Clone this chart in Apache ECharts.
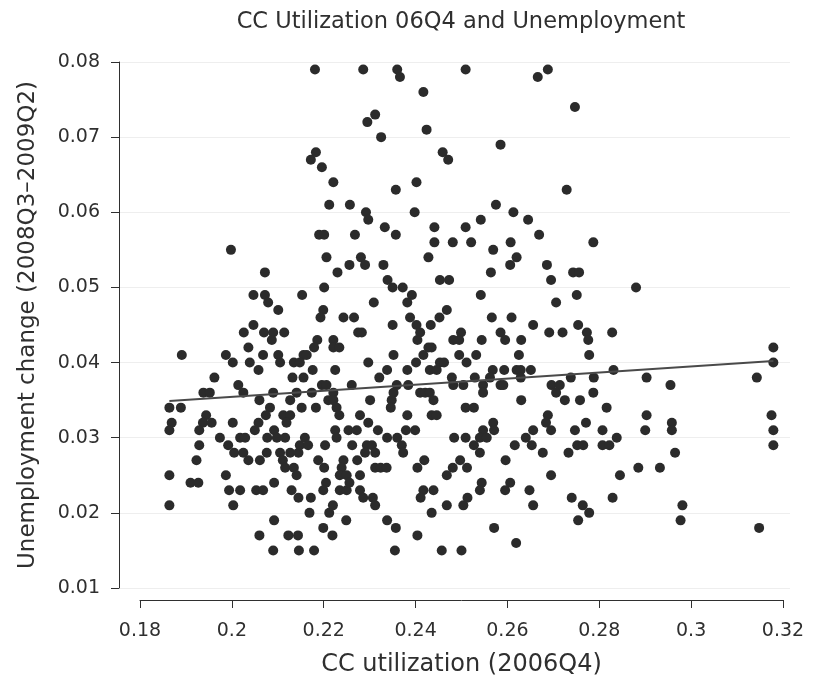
<!DOCTYPE html>
<html>
<head>
<meta charset="utf-8">
<script src="https://cdn.jsdelivr.net/npm/echarts/dist/echarts.min.js"></script>
<style>
  html, body { margin: 0; padding: 0; background: #fff; }
  #chart { width: 823px; height: 685px; }
</style>
</head>
<body>
<div id="chart"></div>
<script>
// CC utilization (2006Q4) vs unemployment change (2008Q3-2009Q2), one point per county
var points = [
  [0.2181,0.079],[0.2286,0.079],[0.2360,0.079],[0.2366,0.078],[0.2509,0.079],[0.2417,0.076],
  [0.2312,0.073],[0.2295,0.072],[0.2424,0.071],[0.2325,0.070],[0.2183,0.068],[0.2172,0.067],
  [0.2196,0.066],[0.2459,0.068],[0.2471,0.067],[0.2221,0.064],[0.2402,0.064],[0.2357,0.063],
  [0.2212,0.061],[0.2257,0.061],[0.2292,0.060],[0.2297,0.059],[0.2398,0.060],[0.2333,0.058],
  [0.2441,0.058],[0.2509,0.058],
  [0.2688,0.079],[0.2666,0.078],[0.2747,0.074],[0.2585,0.069],[0.2729,0.063],[0.2575,0.061],
  [0.2613,0.060],[0.2645,0.059],[0.2542,0.059],
  [0.1998,0.055],[0.2072,0.052],[0.2047,0.049],[0.2072,0.049],[0.2079,0.048],[0.2101,0.047],
  [0.2153,0.049],[0.2047,0.045],[0.2026,0.044],[0.2070,0.044],[0.2090,0.044],[0.2114,0.044],
  [0.2087,0.043],[0.2036,0.042],[0.1891,0.041],[0.1987,0.041],[0.2002,0.040],[0.2068,0.041],
  [0.2101,0.041],[0.2105,0.040],[0.2039,0.040],[0.2058,0.039],[0.2135,0.040],[0.1962,0.038],
  [0.2132,0.038],[0.2014,0.037],[0.1938,0.036],[0.1952,0.036],[0.2025,0.036],[0.2090,0.036],
  [0.2141,0.036],
  [0.2190,0.057],[0.2201,0.057],[0.2268,0.057],[0.2357,0.057],[0.2441,0.056],[0.2481,0.056],
  [0.2521,0.056],[0.2206,0.054],[0.2281,0.054],[0.2290,0.053],[0.2256,0.053],[0.2230,0.052],
  [0.2330,0.053],[0.2428,0.054],[0.2339,0.051],[0.2350,0.050],[0.2372,0.050],[0.2453,0.051],
  [0.2473,0.051],[0.2201,0.050],[0.2392,0.049],[0.2382,0.048],[0.2309,0.048],[0.2199,0.047],
  [0.2193,0.046],[0.2243,0.046],[0.2266,0.046],[0.2388,0.046],[0.2468,0.047],[0.2452,0.046],
  [0.2350,0.045],[0.2402,0.045],[0.2433,0.045],[0.2410,0.044],[0.2275,0.044],[0.2283,0.044],
  [0.2499,0.044],[0.2404,0.043],[0.2482,0.043],[0.2495,0.043],[0.2186,0.043],[0.2221,0.043],
  [0.2221,0.042],[0.2234,0.042],[0.2179,0.042],[0.2428,0.042],[0.2435,0.042],[0.2417,0.041],
  [0.2352,0.041],[0.2495,0.041],[0.2156,0.041],[0.2163,0.041],[0.2148,0.040],[0.2401,0.040],
  [0.2297,0.040],[0.2453,0.040],[0.2462,0.040],[0.2511,0.040],[0.2176,0.039],[0.2225,0.039],
  [0.2338,0.039],[0.2382,0.039],[0.2431,0.039],[0.2446,0.039],[0.2156,0.038],[0.2321,0.038],
  [0.2479,0.038],[0.2196,0.037],[0.2206,0.037],[0.2261,0.037],[0.2359,0.037],[0.2384,0.037],
  [0.2482,0.037],[0.2504,0.037],[0.2174,0.036],[0.2221,0.036],[0.2410,0.036],[0.2421,0.036],
  [0.2352,0.036],
  [0.2669,0.057],[0.2607,0.056],[0.2787,0.056],[0.2569,0.055],[0.2620,0.054],[0.2606,0.053],
  [0.2686,0.053],[0.2564,0.052],[0.2743,0.052],[0.2756,0.052],[0.2695,0.051],[0.2880,0.050],
  [0.2542,0.049],[0.2751,0.049],[0.2706,0.048],[0.2566,0.046],[0.2609,0.046],[0.2656,0.045],
  [0.2754,0.045],[0.2585,0.044],[0.2691,0.044],[0.2720,0.044],[0.2773,0.044],[0.2828,0.044],
  [0.2544,0.043],[0.2595,0.043],[0.2630,0.043],[0.2776,0.043],[0.2532,0.041],[0.2625,0.041],
  [0.2778,0.041],[0.2529,0.038],[0.2568,0.039],[0.2593,0.039],[0.2620,0.039],[0.2629,0.039],
  [0.2651,0.039],[0.2831,0.039],[0.2562,0.038],[0.2629,0.038],[0.2738,0.038],[0.2788,0.038],
  [0.2547,0.037],[0.2585,0.037],[0.2591,0.037],[0.2696,0.037],[0.2714,0.037],[0.2706,0.036],
  [0.2547,0.036],[0.2787,0.036],[0.2630,0.035],
  [0.3179,0.042],[0.3179,0.040],[0.2903,0.038],[0.2955,0.037],[0.3143,0.038],
  [0.1864,0.034],[0.1889,0.034],[0.1869,0.032],[0.1864,0.031],[0.1944,0.033],[0.1937,0.032],
  [0.1956,0.032],[0.1929,0.031],[0.2002,0.032],[0.2060,0.035],[0.2127,0.035],[0.2083,0.034],
  [0.2074,0.033],[0.2058,0.032],[0.2050,0.031],[0.2112,0.033],[0.2127,0.033],[0.2119,0.032],
  [0.2092,0.031],[0.1974,0.030],[0.1929,0.029],[0.1992,0.029],[0.2018,0.030],[0.2029,0.030],
  [0.2077,0.030],[0.2098,0.030],[0.2116,0.030],[0.2005,0.028],[0.2025,0.028],[0.2036,0.027],
  [0.2061,0.027],[0.2076,0.028],[0.2105,0.028],[0.2111,0.027],[0.2127,0.028],[0.2145,0.028],
  [0.1923,0.027],[0.2116,0.026],[0.2135,0.026],[0.1864,0.025],[0.1987,0.025],[0.1910,0.024],
  [0.1927,0.024],[0.2141,0.025],[0.2092,0.024],[0.1994,0.023],[0.2018,0.023],[0.2053,0.023],
  [0.2068,0.023],[0.2130,0.023],[0.2145,0.022],[0.1864,0.021],[0.2003,0.021],[0.2092,0.019],
  [0.2060,0.017],[0.2123,0.017],[0.2144,0.017],[0.2090,0.015],[0.2146,0.015],
  [0.2152,0.034],[0.2183,0.034],[0.2210,0.035],[0.2221,0.035],[0.2228,0.034],[0.2234,0.033],
  [0.2301,0.035],[0.2348,0.035],[0.2346,0.034],[0.2279,0.033],[0.2297,0.032],[0.2382,0.033],
  [0.2431,0.036],[0.2439,0.035],[0.2435,0.033],[0.2446,0.033],[0.2509,0.034],[0.2225,0.031],
  [0.2228,0.030],[0.2254,0.031],[0.2272,0.031],[0.2318,0.031],[0.2379,0.031],[0.2399,0.031],
  [0.2338,0.030],[0.2360,0.030],[0.2370,0.029],[0.2373,0.028],[0.2484,0.030],[0.2509,0.030],
  [0.2159,0.030],[0.2148,0.029],[0.2166,0.029],[0.2203,0.029],[0.2262,0.029],[0.2294,0.029],
  [0.2305,0.029],[0.2290,0.028],[0.2312,0.028],[0.2188,0.027],[0.2201,0.026],[0.2243,0.027],
  [0.2273,0.027],[0.2239,0.026],[0.2235,0.025],[0.2250,0.025],[0.2279,0.025],[0.2312,0.026],
  [0.2324,0.026],[0.2337,0.026],[0.2404,0.026],[0.2419,0.027],[0.2468,0.025],[0.2481,0.026],
  [0.2497,0.027],[0.2512,0.026],[0.2205,0.024],[0.2199,0.023],[0.2235,0.023],[0.2250,0.023],
  [0.2256,0.024],[0.2279,0.023],[0.2286,0.022],[0.2307,0.022],[0.2312,0.021],[0.2417,0.023],
  [0.2439,0.023],[0.2411,0.022],[0.2172,0.022],[0.2220,0.021],[0.2212,0.020],[0.2169,0.020],
  [0.2249,0.019],[0.2468,0.021],[0.2504,0.021],[0.2513,0.022],[0.2435,0.020],[0.2338,0.019],
  [0.2357,0.018],[0.2199,0.018],[0.2219,0.017],[0.2404,0.017],[0.2179,0.015],[0.2355,0.015],
  [0.2457,0.015],[0.2500,0.015],
  [0.2725,0.035],[0.2758,0.035],[0.2527,0.034],[0.2816,0.034],[0.2688,0.033],[0.2684,0.032],
  [0.2569,0.032],[0.2547,0.031],[0.2571,0.031],[0.2656,0.031],[0.2695,0.031],[0.2747,0.031],
  [0.2771,0.032],[0.2807,0.031],[0.2540,0.030],[0.2555,0.030],[0.2640,0.030],[0.2616,0.029],
  [0.2653,0.029],[0.2527,0.029],[0.2540,0.028],[0.2677,0.028],[0.2733,0.028],[0.2752,0.029],
  [0.2765,0.029],[0.2807,0.029],[0.2822,0.029],[0.2838,0.030],[0.2900,0.031],[0.2596,0.027],
  [0.2695,0.025],[0.2845,0.025],[0.2885,0.026],[0.2544,0.024],[0.2540,0.023],[0.2606,0.024],
  [0.2595,0.023],[0.2648,0.023],[0.2656,0.021],[0.2740,0.022],[0.2764,0.021],[0.2778,0.020],
  [0.2754,0.019],[0.2829,0.022],[0.2571,0.018],[0.2619,0.016],
  [0.2903,0.033],[0.2958,0.032],[0.2958,0.031],[0.2965,0.028],[0.2932,0.026],[0.2981,0.021],
  [0.2977,0.019],[0.3148,0.018],[0.3175,0.033],[0.3179,0.031],[0.3179,0.029]
];

// fitted line (endpoints at the min / max utilization)
var fitX = [0.1864, 0.3179];
var fitY = [0.0349, 0.0402];

var xMin = 0.18, xMax = 0.32, xStep = 0.02;
var yMin = 0.01, yMax = 0.08, yStep = 0.01;

var fitLine = fitX.map(function (x, i) { return [x, fitY[i]]; });

var chart = echarts.init(document.getElementById('chart'));
var font = 'DejaVu Sans, sans-serif';
var ink = '#2f2f2f';

chart.setOption({
  animation: false,
  backgroundColor: '#fff',
  textStyle: { fontFamily: font },
  title: {
    text: 'CC Utilization 06Q4 and Unemployment',
    left: 456,
    textAlign: 'center',
    top: 6,
    textStyle: { fontSize: 22.5, fontWeight: 'normal', color: ink, fontFamily: font }
  },
  grid: [
    { left: 140, right: 40, top: 62, bottom: 97 },
    // wider box only used for the faint horizontal rules
    { left: 120, right: 33, top: 62, bottom: 97 }
  ],
  xAxis: [{
    type: 'value',
    gridIndex: 0,
    min: xMin, max: xMax, interval: xStep,
    offset: 12,
    name: 'CC utilization (2006Q4)',
    nameLocation: 'middle',
    nameGap: 53,
    nameTextStyle: { fontSize: 24, color: ink },
    axisLine: { lineStyle: { color: ink, width: 1 } },
    axisTick: { length: 8, lineStyle: { color: ink } },
    axisLabel: { fontSize: 19, color: ink, margin: 22 },
    splitLine: { show: false }
  }, {
    type: 'value',
    gridIndex: 1,
    min: 0, max: 1,
    show: false
  }],
  yAxis: [{
    type: 'value',
    gridIndex: 0,
    min: yMin, max: yMax, interval: yStep,
    offset: 21,
    name: 'Unemployment change (2008Q3\u20132009Q2)',
    nameLocation: 'middle',
    nameGap: 79,
    nameRotate: 90,
    nameTextStyle: { fontSize: 23, color: ink },
    axisLine: { show: true, lineStyle: { color: ink, width: 1 } },
    axisTick: { show: true, length: 8, lineStyle: { color: ink } },
    axisLabel: { fontSize: 19, color: ink, margin: 19 },
    splitLine: { show: false }
  }, {
    type: 'value',
    gridIndex: 1,
    min: yMin, max: yMax, interval: yStep,
    axisLine: { show: false },
    axisTick: { show: false },
    axisLabel: { show: false },
    splitLine: { show: true, lineStyle: { color: '#eeeeee', width: 1 } }
  }],
  series: [
    {
      type: 'scatter',
      xAxisIndex: 0, yAxisIndex: 0,
      data: points,
      symbolSize: 10,
      itemStyle: { color: '#2b2b2b', opacity: 1 }
    },
    {
      type: 'line',
      xAxisIndex: 0, yAxisIndex: 0,
      data: fitLine,
      symbol: 'none',
      z: 5,
      lineStyle: { color: '#4a4a4a', width: 2 }
    }
  ]
});
</script>
</body>
</html>
